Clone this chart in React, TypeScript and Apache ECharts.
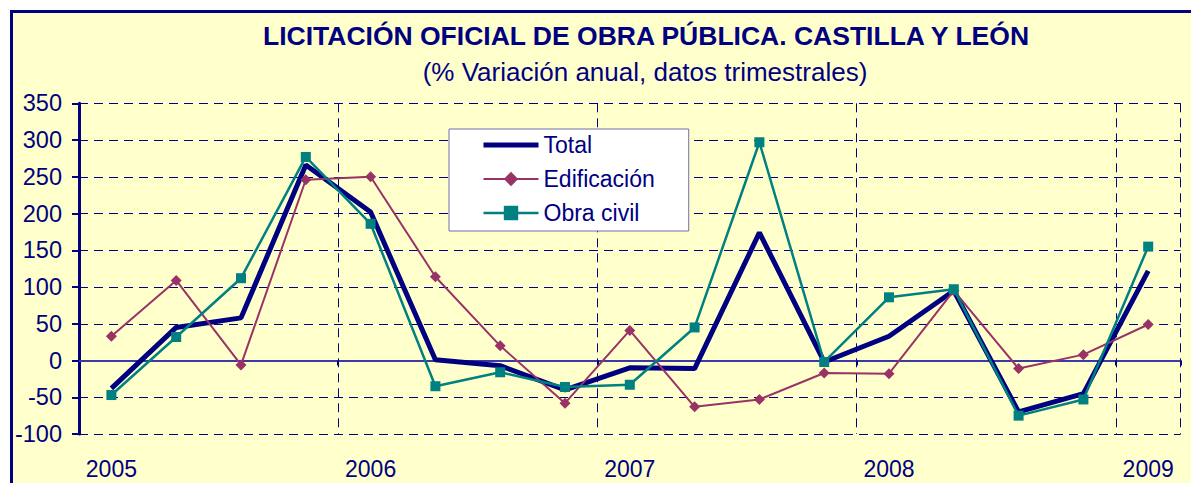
import React, { useEffect, useRef } from 'react';
import * as echarts from 'echarts';

const titleText = 'LICITACIÓN OFICIAL DE OBRA PÚBLICA. CASTILLA Y LEÓN';
const subtitleText = '(% Variación anual, datos trimestrales)';

const quarters = [
  '2005 T1', '2005 T2', '2005 T3', '2005 T4',
  '2006 T1', '2006 T2', '2006 T3', '2006 T4',
  '2007 T1', '2007 T2', '2007 T3', '2007 T4',
  '2008 T1', '2008 T2', '2008 T3', '2008 T4',
  '2009 T1',
];

const total = [-38, 45, 58, 266, 202, 1, -7, -40, -10, -11, 174, -2, 33, 95, -70, -45, 122];
const edificacion = [33, 109, -6, 246, 250, 114, 20, -58, 41, -63, -53, -17, -18, 95, -11, 8, 49];
const obraCivil = [-47, 32, 112, 277, 186, -35, -16, -36, -33, 45, 297, -2, 86, 97, -75, -53, 155];

const yMin = -100;
const yMax = 350;
const yStep = 50;

export default function App() {
  const ref = useRef<HTMLDivElement>(null);
  useEffect(() => {
    const chart = echarts.init(ref.current!, undefined, { renderer: 'svg' });
    const font = '"Liberation Sans", Arial, sans-serif';
    const navy = '#000080';
    const purple = '#993366';
    const teal = '#008080';
    const yearBoundary = (i: number) => i > 0 && i % 4 === 0;
    chart.setOption({
      animation: false,
      backgroundColor: '#ffffff',
      graphic: [
        {
          type: 'rect',
          z: -10,
          shape: { x: 11.5, y: 11.5, width: 1200, height: 500 },
          style: { fill: '#FFFFCC', stroke: navy, lineWidth: 3 },
        },
        {
          type: 'text',
          x: 646,
          y: 36,
          style: {
            text: titleText,
            font: `bold 26.5px ${font}`,
            fill: navy,
            align: 'center',
            verticalAlign: 'middle',
          },
        },
        {
          type: 'text',
          x: 645,
          y: 72,
          style: {
            text: subtitleText,
            font: `26px ${font}`,
            fill: navy,
            align: 'center',
            verticalAlign: 'middle',
          },
        },
      ],
      grid: { left: 79, right: 10.4, top: 103.3, bottom: 49, containLabel: false },
      legend: {
        orient: 'vertical',
        left: 449,
        top: 129,
        backgroundColor: '#ffffff',
        borderColor: '#7070a8',
        borderWidth: 1,
        borderRadius: 0,
        padding: [3, 34, 5, 32],
        itemWidth: 55,
        itemHeight: 18,
        itemGap: 8,
        textStyle: { fontFamily: font, fontSize: 23, color: navy, lineHeight: 26 },
        data: [
          { name: 'Total', lineStyle: { width: 5 }, itemStyle: { opacity: 0 } },
          { name: 'Edificación', lineStyle: { width: 2 } },
          { name: 'Obra civil', lineStyle: { width: 2.5 } },
        ],
      },
      xAxis: [
        {
          type: 'category',
          data: quarters,
          boundaryGap: true,
          position: 'bottom',
          axisLine: { show: false, onZero: false },
          axisTick: { show: false },
          axisLabel: {
            interval: 3,
            formatter: (v: string) => (v.endsWith('T1') ? v.slice(0, 4) : ''),
            color: navy,
            fontFamily: font,
            fontSize: 23,
            margin: 23,
          },
          splitLine: {
            show: true,
            interval: (i: number) => yearBoundary(i),
            lineStyle: { color: navy, width: 1, type: [9, 6] },
          },
        },
        {
          type: 'category',
          data: quarters,
          boundaryGap: true,
          position: 'top',
          axisLine: { show: true, onZero: true, lineStyle: { color: '#3a3aa6', width: 2 } },
          axisTick: {
            show: true,
            inside: true,
            length: 5,
            interval: (i: number) => yearBoundary(i),
            lineStyle: { color: navy, width: 2 },
          },
          axisLabel: { show: false },
          splitLine: { show: false },
        },
      ],
      yAxis: {
        type: 'value',
        min: yMin,
        max: yMax,
        interval: yStep,
        axisLine: { show: true, lineStyle: { color: navy, width: 3 } },
        axisTick: { show: true, length: 7, lineStyle: { color: navy, width: 2 } },
        axisLabel: { color: navy, fontFamily: font, fontSize: 23.5, margin: 17 },
        splitLine: { show: true, lineStyle: { color: navy, width: 1, type: [9, 6] } },
      },
      series: [
        {
          name: 'Total',
          type: 'line',
          xAxisIndex: 0,
          data: total,
          symbol: 'none',
          lineStyle: { color: navy, width: 5 },
          itemStyle: { color: navy },
        },
        {
          name: 'Edificación',
          type: 'line',
          xAxisIndex: 0,
          data: edificacion,
          symbol: 'diamond',
          symbolSize: 11,
          lineStyle: { color: purple, width: 2 },
          itemStyle: { color: purple },
        },
        {
          name: 'Obra civil',
          type: 'line',
          xAxisIndex: 0,
          data: obraCivil,
          symbol: 'rect',
          symbolSize: 10,
          lineStyle: { color: teal, width: 2.5 },
          itemStyle: { color: teal },
        },
      ],
    });
    return () => chart.dispose();
  }, []);
  return (
    <div
      ref={ref}
      style={{ position: 'fixed', left: 0, top: 0, width: 1191, height: 483 }}
    />
  );
}
